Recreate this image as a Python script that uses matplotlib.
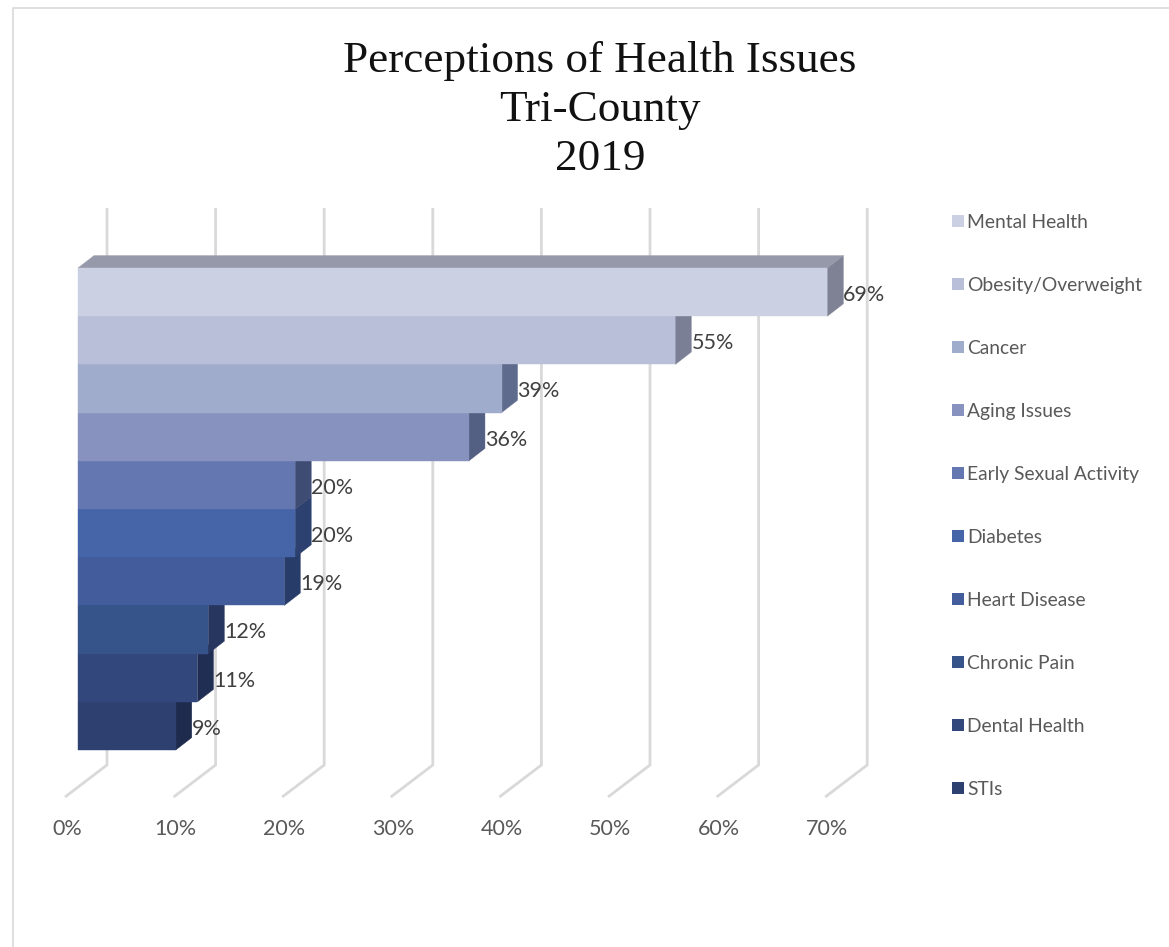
import matplotlib
matplotlib.use("Agg")
import matplotlib.pyplot as plt
from matplotlib.patches import Polygon, Patch
from matplotlib.lines import Line2D
from matplotlib.transforms import ScaledTranslation

categories = ["Mental Health", "Obesity/Overweight", "Cancer", "Aging Issues",
              "Early Sexual Activity", "Diabetes", "Heart Disease", "Chronic Pain",
              "Dental Health", "STIs"]
values = [69, 55, 39, 36, 20, 20, 19, 12, 11, 9]
front_colors = ["#CCD0E3", "#B9BED9", "#A0ACCC", "#8793BE", "#6477B0",
                "#4664A8", "#425C9C", "#37548A", "#32477B", "#2E406F"]
side_colors = ["#7F8295", "#7B7F95", "#5F6B8C", "#545F84", "#3E4C74",
               "#2C4170", "#283C6A", "#27365F", "#212E54", "#1E2B4D"]
top_color = "#9699A9"
ticks = [0, 10, 20, 30, 40, 50, 60, 70]
tick_labels = ["0%", "10%", "20%", "30%", "40%", "50%", "60%", "70%"]
title_lines = ["Perceptions of Health Issues", "Tri-County", "2019"]

W, H = 1169, 947
PX_PER_PCT = 10.86
PX_PER_ROW = 48.2
X0_PX = 78
Y0_PX = 292.1
AX_BOTTOM = 812

fig = plt.figure(figsize=(W / 100, H / 100), dpi=100, facecolor="white")
ax = fig.add_axes([0, 1 - AX_BOTTOM / H, 1, AX_BOTTOM / H])
ax.patch.set_alpha(0)
for s in ax.spines.values():
    s.set_visible(False)
ax.set_xlim(-X0_PX / PX_PER_PCT, (W - X0_PX) / PX_PER_PCT)
ax.set_ylim((AX_BOTTOM - Y0_PX) / PX_PER_ROW, -Y0_PX / PX_PER_ROW)
ax.set_yticks([])

dx_bar = 16 / PX_PER_PCT
dy_bar = 12.4 / PX_PER_ROW
dx_wall = 29 / PX_PER_PCT
wall_top = (208 - Y0_PX) / PX_PER_ROW
wall_bot = (765 - Y0_PX) / PX_PER_ROW
floor_dx = 42 / PX_PER_PCT
floor_dy = 32 / PX_PER_ROW

grid = "#D9D9D9"
for t in ticks:
    ax.plot([t + dx_wall, t + dx_wall, t + dx_wall - floor_dx],
            [wall_top, wall_bot, wall_bot + floor_dy],
            color=grid, lw=2.0, zorder=1, solid_joinstyle="miter", solid_capstyle="butt")

n = len(values)
for i in range(n - 1, -1, -1):
    v = values[i]
    z = 2 + (n - i) * 0.1
    t_, b_ = i - 0.5, i + 0.5
    ax.add_patch(Polygon([(v, t_), (v + dx_bar, t_ - dy_bar), (v + dx_bar, b_ - dy_bar), (v, b_)],
                         closed=True, fc=side_colors[i], ec=side_colors[i], lw=0.3, zorder=z))
    if i == 0:
        ax.add_patch(Polygon([(0, t_), (dx_bar, t_ - dy_bar), (v + dx_bar, t_ - dy_bar), (v, t_)],
                             closed=True, fc=top_color, ec=top_color, lw=0.3, zorder=z))
    ax.barh(i, v, height=1.0, color=front_colors[i], edgecolor=front_colors[i], lw=0.3, zorder=z + 0.01)

label_shift = ScaledTranslation(0, -3 / 100, fig.dpi_scale_trans)
for i, v in enumerate(values):
    ax.text(v + dx_bar, i, f"{v}%", ha="left", va="center", fontsize=15.5,
            family="Lato", color="#404040", zorder=10,
            transform=ax.transData + label_shift)

ax.set_xticks(ticks, tick_labels)
ax.tick_params(axis="x", length=0, pad=5, labelsize=15.5, labelcolor="#595959")
shift = ScaledTranslation(-11 / 100, 0, fig.dpi_scale_trans)
for lab in ax.get_xticklabels():
    lab.set_family("Lato")
    lab.set_transform(lab.get_transform() + shift)

handles = [Patch(facecolor=c, edgecolor="none", label=l) for c, l in zip(front_colors, categories)]
leg = ax.legend(handles=handles, loc="upper left", bbox_to_anchor=(952 / W, 1 - 213.5 / AX_BOTTOM),
                frameon=False, labelspacing=2.385, handlelength=0.6, handleheight=0.6,
                handletextpad=0.2, borderpad=0, borderaxespad=0,
                prop={"family": "Lato", "size": 13.9})
for tx in leg.get_texts():
    tx.set_color("#595959")

fig.text(600 / W, 1 - 110 / H, "\n".join(title_lines), ha="center", va="center",
         family="Liberation Serif", fontsize=32.5, color="#111111", linespacing=1.3)

fig.add_artist(Line2D([12.5 / W, 12.5 / W, 1], [0, 1 - 8.5 / H, 1 - 8.5 / H],
                      transform=fig.transFigure, color=grid, lw=1.2))

fig.savefig("out.png", dpi=100)
